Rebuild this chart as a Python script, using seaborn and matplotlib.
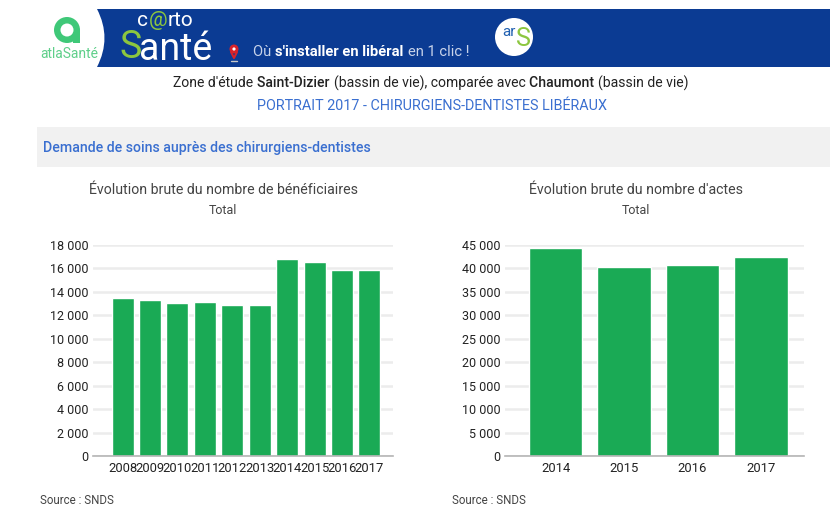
import pandas as pd
import matplotlib.pyplot as plt
import seaborn as sns
from matplotlib.patches import Circle, Rectangle, PathPatch
from matplotlib.path import Path

years_left = ['2008', '2009', '2010', '2011', '2012', '2013', '2014', '2015', '2016', '2017']
beneficiaires = [13450, 13300, 13020, 13165, 12880, 12880, 16830, 16550, 15840, 15840]
ticks_left = [0, 2000, 4000, 6000, 8000, 10000, 12000, 14000, 16000, 18000]

years_right = ['2014', '2015', '2016', '2017']
actes = [44360, 40230, 40660, 42510]
ticks_right = [0, 5000, 10000, 15000, 20000, 25000, 30000, 35000, 40000, 45000]

GREEN = '#1aaa55'
BLUE = '#0b3b93'
LINK = '#3a6fd0'
W, H = 838, 508

sns.set_theme(style='white')
plt.rcParams['font.family'] = ['Roboto', 'DejaVu Sans']

fig = plt.figure(figsize=(W / 100, H / 100), dpi=100)

# page furniture, drawn in pixel coordinates
bg = fig.add_axes([0, 0, 1, 1])
bg.set_xlim(0, W)
bg.set_ylim(H, 0)
bg.axis('off')


def text_run(x, y, parts, fontsize):
    # parts are (text, colour, weight), each one starts where the last one ended
    rend = fig.canvas.get_renderer()
    for s, c, w in parts:
        t = bg.text(x, y, s, color=c, fontsize=fontsize, fontweight=w, ha='left', va='center')
        x = bg.transData.inverted().transform(t.get_window_extent(rend).p1)[0] + 0.5
    return x


banner = Path([(97, 9), (830, 9), (830, 67), (97, 67), (112, 38), (97, 9), (97, 9)],
              [Path.MOVETO, Path.LINETO, Path.LINETO, Path.LINETO, Path.CURVE3, Path.CURVE3, Path.CLOSEPOLY])
bg.add_patch(PathPatch(banner, fc=BLUE, ec='none'))
bg.add_patch(Circle((67, 30), 13, fc='#3fc878', ec='none'))
bg.add_patch(Rectangle((73, 30), 7, 13, fc='#3fc878', ec='none'))
bg.add_patch(Circle((67, 30), 6.5, fc='white', ec='none'))
bg.text(69, 54, 'atlaSanté', color='#5fcf8a', fontsize=10, ha='center', va='center')
text_run(137, 21, [('c', 'white', 'normal'), ('@', '#8cc63f', 'normal'), ('rto', 'white', 'normal')], 15)
bg.text(119, 47, 'S', color='#8cc63f', fontsize=27, ha='left', va='center')
bg.text(139, 49, 'anté', color='white', fontsize=27, ha='left', va='center')
bg.add_patch(Circle((234, 49), 4.5, fc='#d8232a', ec='none'))
bg.add_patch(Circle((234, 49), 1.6, fc='white', ec='none'))
bg.plot([231, 234, 237], [52, 58, 52], color='#d8232a', lw=1.5)
bg.plot([231, 237], [61, 61], color='#c8c8c8', lw=1)
text_run(253, 52, [('Où ', '#c9d4ea', 'normal'), ("s'installer en libéral ", 'white', 'bold'),
                   ('en 1 clic !', '#c9d4ea', 'normal')], 10.6)
bg.add_patch(Circle((514, 37), 19, fc='white', ec='none'))
bg.text(509, 32, 'ar', color='#1f5fb0', fontsize=11, ha='center', va='center')
bg.text(523, 39, 'S', color='#8cc63f', fontsize=18, ha='center', va='center')

text_run(173, 83, [("Zone d'étude ", '#222222', 'normal'), ('Saint-Dizier ', '#222222', 'medium'),
                   ('(bassin de vie), comparée avec ', '#222222', 'normal'), ('Chaumont ', '#222222', 'medium'),
                   ('(bassin de vie)', '#222222', 'normal')], 10.1)
bg.text(432, 106, 'PORTRAIT 2017 - CHIRURGIENS-DENTISTES LIBÉRAUX', color=LINK, fontsize=10.4, ha='center', va='center')
bg.add_patch(Rectangle((37, 127), 793, 40, fc='#f1f1f1', ec='none'))
bg.text(43, 148, 'Demande de soins auprès des chirurgiens-dentistes', color=LINK, fontsize=10.2,
        fontweight='medium', ha='left', va='center')


def bar_panel(x0, x1, years, values, ticks, xlim, width):
    ax = fig.add_axes([x0 / W, 1 - 456 / H, (x1 - x0) / W, (456 - 245) / H])
    ax.patch.set_alpha(0)
    data = pd.DataFrame({'annee': years, 'valeur': values})
    sns.barplot(data=data, x='annee', y='valeur', color=GREEN, saturation=1, width=width, ax=ax)
    ax.set_xlim(*xlim)
    ax.set_ylim(0, ticks[-1])
    ax.set_yticks(ticks)
    ax.set_yticklabels([f'{t:,}'.replace(',', ' ') for t in ticks])
    ax.set_xlabel('')
    ax.set_ylabel('')
    ax.yaxis.grid(True, color='#ececec', lw=1.8)
    ax.set_axisbelow(True)
    ax.tick_params(axis='y', length=0, pad=3, labelsize=9, labelcolor='#222222')
    ax.tick_params(axis='x', length=0, pad=4, labelsize=9.4, labelcolor='#222222')
    sns.despine(ax=ax, left=True)
    ax.spines['bottom'].set_color('#b5b5b5')
    ax.spines['bottom'].set_linewidth(1.2)
    return ax


bar_panel(93, 393, years_left, beneficiaires, ticks_left, (-1.08, 9.86), 0.8)
bar_panel(505, 804, years_right, actes, ticks_right, (-0.74, 3.63), 0.78)

bg.text(223, 190, 'Évolution brute du nombre de bénéficiaires', color='#444444', fontsize=10.2, ha='center', va='center')
bg.text(223, 211, 'Total', color='#444444', fontsize=9, ha='center', va='center')
bg.text(636, 190, "Évolution brute du nombre d'actes", color='#444444', fontsize=10.2, ha='center', va='center')
bg.text(636, 211, 'Total', color='#444444', fontsize=9, ha='center', va='center')
bg.text(40, 500, 'Source : SNDS', color='#444444', fontsize=8.3, ha='left', va='center')
bg.text(452, 500, 'Source : SNDS', color='#444444', fontsize=8.3, ha='left', va='center')

fig.savefig('out.png', dpi=100)
